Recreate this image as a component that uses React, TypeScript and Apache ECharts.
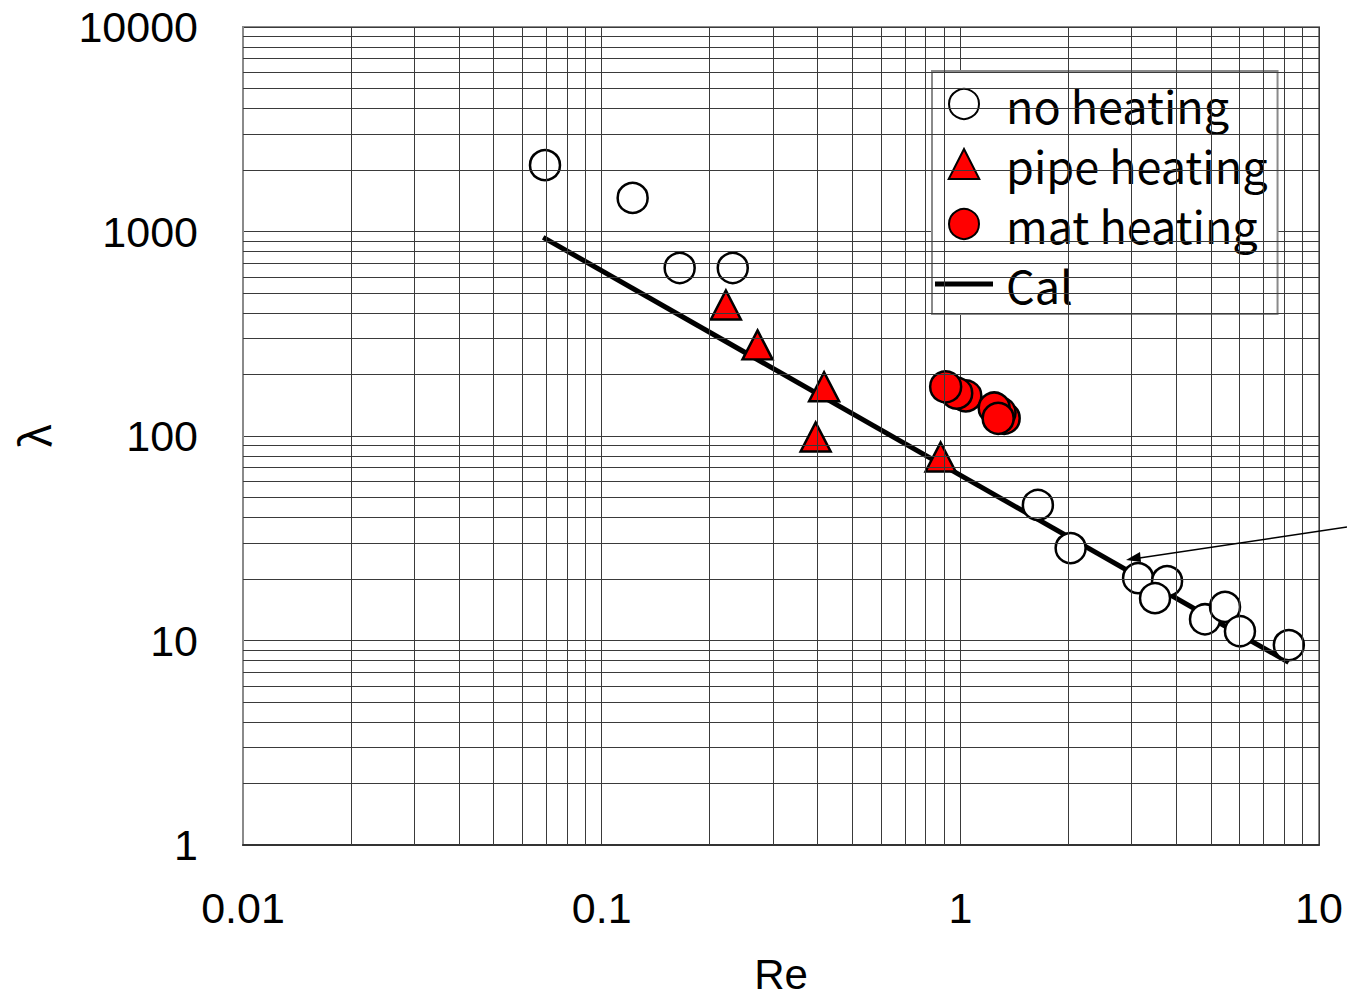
import React, { useEffect, useRef } from "react";
import * as echarts from "echarts";

// ---- data ----
const noHeatingRe = [0.0695, 0.122, 0.165, 0.232, 1.645, 2.03, 3.13, 3.77, 3.49, 4.81, 5.47, 6.02, 8.24];
const noHeatingLambda = [2110, 1460, 663, 663, 46, 28.3, 20.2, 19.5, 16.1, 12.7, 14.6, 11.1, 9.5];

const pipeHeatingRe = [0.222, 0.272, 0.417, 0.395, 0.881];
const pipeHeatingLambda = [437, 279, 174, 98.9, 78.9];

const matHeatingRe = [1.036, 0.977, 0.91, 1.325, 1.29, 1.243, 1.275];
const matHeatingLambda = [157, 162, 174, 122, 130, 137, 122];

const calRe = [0.0687, 8.23];
const calLambda = [936, 7.82];

const xMin = 0.01;
const xMax = 10;
const yMin = 1;
const yMax = 10000;

const seriesNames = ["no heating", "pipe heating", "mat heating", "Cal"];

function zip(a: number[], b: number[]) {
  return a.map((v, i) => [v, b[i]]);
}

function minorValues(min: number, max: number) {
  const out: number[] = [];
  for (let d = min; d < max * 0.999; d *= 10) {
    for (let k = 2; k <= 9; k++) out.push(parseFloat((d * k).toPrecision(6)));
  }
  return out;
}

function fmt(v: number) {
  return String(parseFloat(Number(v).toPrecision(6)));
}

export default function App() {
  const ref = useRef<HTMLDivElement>(null);

  useEffect(() => {
    if (!ref.current) return;
    const chart = echarts.init(ref.current, null, { renderer: "svg" });
    const gridColor = "#3a3a3a";
    const markerStyle = { borderColor: "#000", borderWidth: 2.5, opacity: 1 };

    const gridLines = [
      ...minorValues(xMin, xMax).map((v) => ({ xAxis: v })),
      ...minorValues(yMin, yMax).map((v) => ({ yAxis: v })),
    ];

    chart.setOption({
      animation: false,
      backgroundColor: "#fff",
      grid: {
        left: 243,
        right: 28,
        top: 27,
        bottom: 154,
        containLabel: false,
        outerBoundsMode: "none",
        show: true,
        borderColor: "#8a8a8a",
        borderWidth: 2,
        backgroundColor: "transparent",
      },
      xAxis: {
        type: "log",
        logBase: 10,
        min: xMin,
        max: xMax,
        name: "Re",
        nameLocation: "middle",
        nameGap: 108,
        nameTextStyle: { fontSize: 42, color: "#000", fontFamily: "Liberation Sans" },
        axisLine: { show: true, onZero: false, lineStyle: { color: "#333", width: 2 } },
        axisTick: { show: false },
        axisLabel: {
          fontSize: 43,
          color: "#000",
          fontFamily: "Liberation Sans",
          margin: 41,
          formatter: (v: number) => fmt(v),
        },
        splitLine: { show: true, lineStyle: { color: gridColor, width: 1 } },
      },
      yAxis: {
        type: "log",
        logBase: 10,
        min: yMin,
        max: yMax,
        name: "λ",
        nameLocation: "middle",
        nameGap: 190,
        nameRotate: 90,
        nameTextStyle: { fontSize: 42, color: "#000", fontFamily: "Noto Sans CJK JP" },
        axisLine: { show: true, lineStyle: { color: "#8a8a8a", width: 2 } },
        axisTick: { show: false },
        axisLabel: {
          fontSize: 43,
          color: "#000",
          fontFamily: "Liberation Sans",
          margin: 45,
          formatter: (v: number) => fmt(v),
        },
        splitLine: { show: true, lineStyle: { color: gridColor, width: 1 } },
      },
      legend: {
        data: [
          { name: seriesNames[0], icon: "circle" },
          { name: seriesNames[1], icon: "path://M0,-1 L1.02,1 L-1.02,1 Z" },
          { name: seriesNames[2], icon: "circle" },
          { name: seriesNames[3], icon: "path://M0,0 L58,0 L58,5 L0,5 Z", itemStyle: { color: "#000", borderWidth: 0 } },
        ],
        orient: "vertical",
        left: 932,
        top: 71,
        padding: [3, 10, 0, 3],
        itemGap: 0,
        itemWidth: 58,
        itemHeight: 30,
        symbolKeepAspect: true,
        backgroundColor: "#fff",
        borderColor: "#8a8a8a",
        borderWidth: 2,
        textStyle: {
          fontSize: 45,
          lineHeight: 50,
          color: "#000",
          fontFamily: "Noto Sans CJK JP",
          padding: [0, 0, 10, 8],
        },
      },
      series: [
        {
          name: "gridlines",
          type: "scatter",
          data: [],
          silent: true,
          z: 1,
          markLine: {
            silent: true,
            symbol: "none",
            label: { show: false },
            animation: false,
            lineStyle: { color: gridColor, width: 1, type: "solid" },
            emphasis: { disabled: true },
            data: gridLines,
          },
        },
        {
          name: "Cal",
          type: "line",
          data: zip(calRe, calLambda),
          symbol: "none",
          showSymbol: false,
          lineStyle: { color: "#000", width: 5 },
          itemStyle: { color: "#000" },
          z: 3,
        },
        {
          name: "no heating",
          type: "scatter",
          data: zip(noHeatingRe, noHeatingLambda),
          symbol: "circle",
          symbolSize: 30,
          itemStyle: { color: "#fff", ...markerStyle },
          z: 4,
        },
        {
          name: "pipe heating",
          type: "scatter",
          data: zip(pipeHeatingRe, pipeHeatingLambda),
          symbol: "triangle",
          symbolSize: [30, 29],
          itemStyle: { color: "#ff0000", ...markerStyle },
          z: 4,
        },
        {
          name: "mat heating",
          type: "scatter",
          data: zip(matHeatingRe, matHeatingLambda),
          symbol: "circle",
          symbolSize: 31,
          itemStyle: { color: "#ff0000", ...markerStyle },
          z: 4,
        },
      ],
      graphic: [
        {
          type: "line",
          z: 10,
          shape: { x1: 1347, y1: 527, x2: 1136, y2: 558.5 },
          style: { stroke: "#000", lineWidth: 1.5 },
        },
        {
          type: "polygon",
          z: 10,
          shape: { points: [[1126, 560], [1140, 552], [1141, 562]] },
          style: { fill: "#000" },
        },
      ],
    });

    return () => chart.dispose();
  }, []);

  return (
    <div
      ref={ref}
      style={{ position: "fixed", left: 0, top: 0, width: 1347, height: 999, background: "#fff" }}
    />
  );
}
